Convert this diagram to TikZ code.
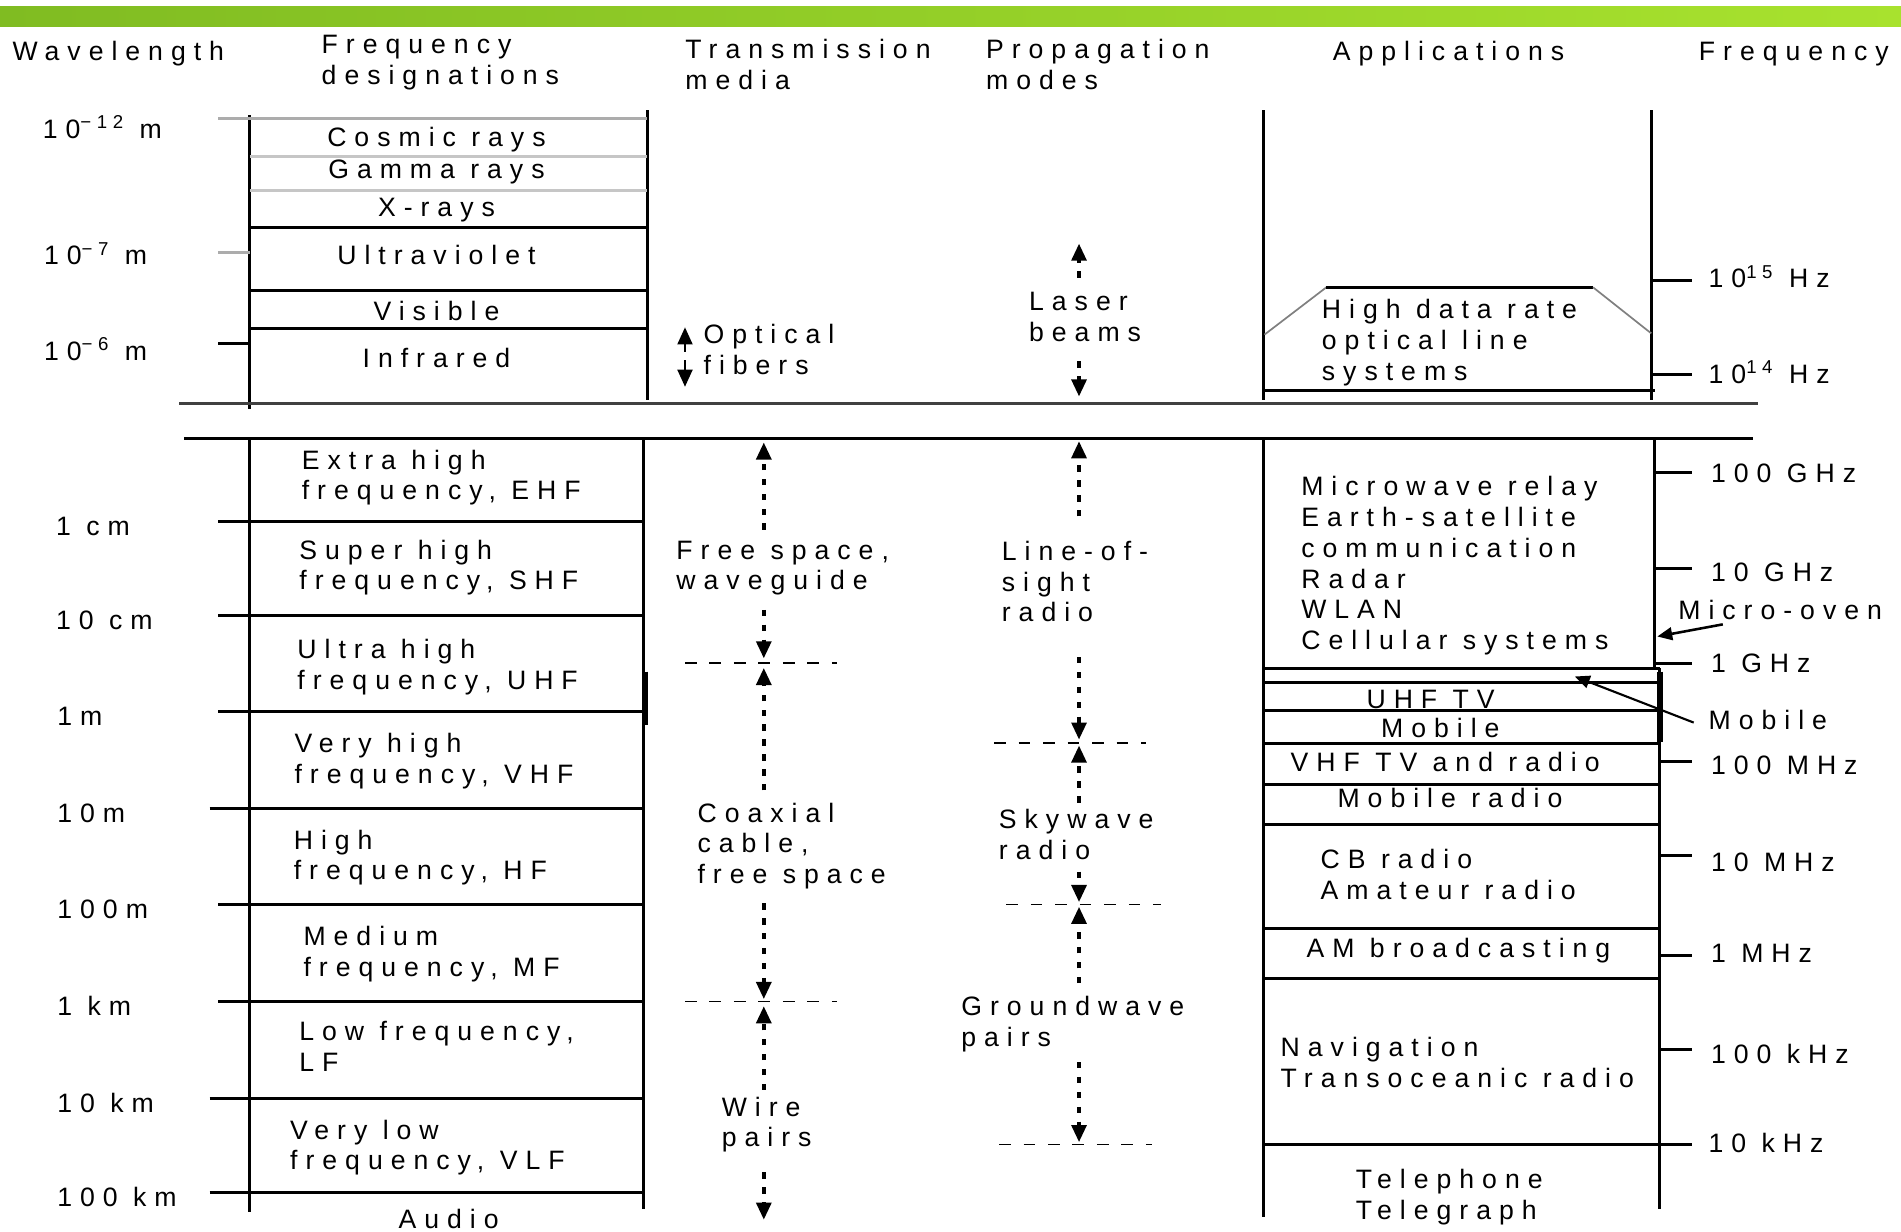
\documentclass[tikz,border=0pt]{standalone}
\usepackage{fontspec}
\setmainfont{Liberation Sans}[LetterSpace=30]
\usetikzlibrary{arrows.meta}

\begin{document}
\begin{tikzpicture}[
  x=0.02cm, y=-0.02cm,
  every node/.style={font=\fontsize{12.5pt}{14.5pt}\selectfont},
  lbl/.style={anchor=base west, inner sep=0pt, align=left},
  clbl/.style={anchor=base, inner sep=0pt, align=center},
  rule/.style={line width=1.4pt},
  greyrule/.style={line width=1.4pt, gray!65},
  stem/.style={line width=1.6pt, dash pattern=on 3pt off 4pt},
  tip/.style={-{Triangle[width=7pt,length=8pt]}},
  band/.style={line width=0.8pt, dash pattern=on 5.5pt off 6pt},
  pointer/.style={line width=1.2pt, -{Triangle[width=6pt,length=7pt]}}
]

\useasboundingbox (0,0) rectangle (1568,1016);
\fill[white] (0,0) rectangle (1568,1016);

% =====================================================
% TITLE BAR AND HEADERS
% (multi-line labels sit on the baseline of their last line)
% =====================================================

\shade[left color={rgb,255:red,128;green,188;blue,34},
       middle color={rgb,255:red,76;green,138;blue,26},
       right color={rgb,255:red,168;green,226;blue,46}]
  (0,5) rectangle (1568,22);

\node[lbl] (hwave)  at (10,49.5)   {Wavelength};
\node[lbl] (hdesig) at (265,70)    {Frequency\\designations};
\node[lbl] (hmedia) at (565,74)    {Transmission\\media};
\node[lbl] (hmodes) at (813,74)    {Propagation\\modes};
\node[lbl] (happ)   at (1099,49.5) {Applications};
\node[lbl] (hfreq)  at (1401,49.5) {Frequency};

% =====================================================
% OPTICAL RANGE
% =====================================================

\draw[rule] (206,95) -- (206,337);
\draw[rule] (534,91) -- (534,330);
\draw[rule] (1042,91) -- (1042,330);
\draw[rule] (1362,91) -- (1362,330);

\draw[greyrule] (180,98) -- (534,98);
\draw[greyrule, gray!45] (206,129) -- (534,129) (206,157) -- (534,157);
\draw[rule] (206,188) -- (534,188) (206,240) -- (534,240) (206,271) -- (534,271);
\draw[greyrule] (180,208) -- (206,208);
\draw[rule] (180,283) -- (206,283);
\draw[line width=1.4pt, black!75] (148,333) -- (1450,333);

\node[lbl] (w12) at (35,114)  {10\textsuperscript{−12} m};
\node[lbl] (w7)  at (36,218.5) {10\textsuperscript{−7} m};
\node[lbl] (w6)  at (36,297)  {10\textsuperscript{−6} m};

\node[clbl] (cosmic) at (360,121)   {Cosmic rays};
\node[clbl] (gamma)  at (360,147)   {Gamma rays};
\node[clbl] (xray)   at (360,178.5) {X-rays};
\node[clbl] (uv)     at (360,218.5) {Ultraviolet};
\node[clbl] (vis)    at (360,264)   {Visible};
\node[clbl] (ir)     at (360,303)   {Infrared};

\node[lbl] (fiber) at (580,309) {Optical\\fibers};
\draw[line width=1pt, tip] (565,290) -- (565,270);
\draw[line width=1pt, tip] (565,297) -- (565,319);

\node[lbl] (laser) at (848.5,282) {Laser\\beams};
\draw[stem, tip] (890,229) -- (890,201);
\draw[stem, tip] (890,298) -- (890,327);

\draw[line width=0.8pt, gray] (1043,276) -- (1094,237);
\draw[rule] (1094,237) -- (1314,237);
\draw[line width=0.8pt, gray] (1314,237) -- (1362,275);
\draw[rule] (1042,322) -- (1365,322);
\node[lbl] (optline) at (1090,313.5) {High data rate\\optical line\\systems};

\draw[rule] (1362,231) -- (1396,231) (1362,309) -- (1396,309);
\node[lbl] (f15) at (1409,237) {10\textsuperscript{15} Hz};
\node[lbl] (f14) at (1409,316) {10\textsuperscript{14} Hz};

% =====================================================
% RADIO RANGE: FREQUENCY DESIGNATIONS
% =====================================================

\draw[rule] (152,362) -- (1446,362);
\draw[rule] (206,362) -- (206,1000);
\draw[rule] (531,362) -- (531,997);
\draw[line width=2.6pt] (532,554) -- (532,598);

\draw[rule] (180,430) -- (531,430) (180,508) -- (531,508) (180,587) -- (531,587)
            (173,667) -- (531,667) (180,746) -- (531,746) (180,826) -- (531,826)
            (173,906) -- (531,906) (173,984) -- (531,984);

\node[lbl] (w1cm)   at (46,441.5) {1 cm};
\node[lbl] (w10cm)  at (46,519.5) {10 cm};
\node[lbl] (w1m)    at (47,598.5) {1m};
\node[lbl] (w10m)   at (47,678.5) {10m};
\node[lbl] (w100m)  at (47,757.5) {100m};
\node[lbl] (w1km)   at (47,837.5) {1 km};
\node[lbl] (w10km)  at (47,917.5) {10 km};
\node[lbl] (w100km) at (47,995.5) {100 km};

\node[lbl] (ehf) at (248.6,412.4) {Extra high\\frequency, EHF};
\node[lbl] (shf) at (246.6,486.6) {Super high\\frequency, SHF};
\node[lbl] (uhf) at (245,569)     {Ultra high\\frequency, UHF};
\node[lbl] (vhf) at (242.6,646)   {Very high\\frequency, VHF};
\node[lbl] (hf)  at (242,725.8)   {High\\frequency, HF};
\node[lbl] (mf)  at (250,805.6)   {Medium\\frequency, MF};
\node[lbl] (lf)  at (246.6,884)   {Low frequency,\\LF};
\node[lbl] (vlf) at (239,965)     {Very low\\frequency, VLF};
\node[clbl] (audio) at (370,1013.5) {Audio};

% =====================================================
% TRANSMISSION MEDIA
% =====================================================

\node[lbl] (freesp) at (557.6,486.6) {Free space,\\waveguide};
\node[lbl] (coax)   at (575,729)     {Coaxial\\cable,\\free space};
\node[lbl] (wire)   at (595,946)     {Wire\\pairs};

\draw[stem, tip] (630,437) -- (630,365);
\draw[stem, tip] (630,503) -- (630,543);
\draw[band] (565,547) -- (690,547);
\draw[stem, tip] (630,652) -- (630,551);
\draw[stem, tip] (630,745) -- (630,824);
\draw[band] (565,826) -- (690,826);
\draw[stem, tip] (630,899) -- (630,830);
\draw[stem, tip] (630,967) -- (630,1006);

% =====================================================
% PROPAGATION MODES
% =====================================================

\node[lbl] (los)    at (826,513)   {Line-of-\\sight\\radio};
\node[lbl] (sky)    at (823.6,709) {Skywave\\radio};
\node[lbl] (ground) at (792.6,863) {Groundwave\\pairs};

\draw[stem, tip] (890,426) -- (890,364);
\draw[stem, tip] (890,542) -- (890,610);
\draw[band] (820,613) -- (945,613);
\draw[stem, tip] (890,662) -- (890,615);
\draw[stem, tip] (890,719) -- (890,744);
\draw[band] (830,746) -- (958,746);
\draw[stem, tip] (890,811) -- (890,748);
\draw[stem, tip] (890,876) -- (890,942);
\draw[band] (824,944) -- (950,944);

% =====================================================
% APPLICATIONS
% =====================================================

\draw[rule] (1042,362) -- (1042,1004);
\draw[rule] (1365,362) -- (1365,551);
\draw[rule] (1369,551) -- (1369,997);
\draw[line width=2.6pt] (1369,554) -- (1369,612);

\draw[rule] (1042,551) -- (1369,551) (1042,563) -- (1369,563) (1042,586) -- (1369,586)
            (1042,613) -- (1369,613) (1042,647) -- (1369,647) (1042,680) -- (1369,680)
            (1042,766) -- (1369,766) (1042,807) -- (1369,807) (1042,944) -- (1396,944);

\node[lbl] (micro) at (1073,536)
{Microwave relay\\Earth-satellite\\communication\\Radar\\WLAN\\Cellular systems};
\node[clbl] (uhftv)  at (1180,584)   {UHF TV};
\node[clbl] (mobile) at (1188,608)   {Mobile};
\node[clbl] (vhftv)  at (1192,636.5) {VHF TV and radio};
\node[clbl] (mobrad) at (1196,666)   {Mobile radio};
\node[lbl]  (cb)     at (1089,742)   {CB radio\\Amateur radio};
\node[clbl] (am)     at (1203,790)   {AM broadcasting};
\node[lbl]  (nav)    at (1056,897)   {Navigation\\Transoceanic radio};
\node[lbl]  (tel)    at (1118,1006)  {Telephone\\Telegraph};

% =====================================================
% FREQUENCY SCALE
% =====================================================

\draw[rule] (1365,390) -- (1396,390) (1365,469) -- (1396,469) (1365,547) -- (1396,547)
            (1369,628) -- (1396,628) (1369,706) -- (1396,706) (1369,788) -- (1396,788)
            (1369,866) -- (1396,866);

\node[lbl] (f100g) at (1411,398) {100 GHz};
\node[lbl] (f10g)  at (1411,480) {10 GHz};
\node[lbl] (oven)  at (1384,511) {Micro-oven};
\node[lbl] (f1g)   at (1411,555) {1 GHz};
\node[lbl] (mobf)  at (1409,602) {Mobile};
\node[lbl] (f100m) at (1411,639) {100 MHz};
\node[lbl] (f10m)  at (1411,719) {10 MHz};
\node[lbl] (f1m)   at (1411,794) {1 MHz};
\node[lbl] (f100k) at (1411,877) {100 kHz};
\node[lbl] (f10k)  at (1409,951) {10 kHz};

\coordinate (oventip) at (1367,525);
\coordinate (mobtip) at (1299,558);
\draw[pointer] ([shift={(37,4)}]oven.base west) -- (oventip);
\draw[pointer, line width=1pt] ([shift={(-12,-6)}]mobf.base west) -- (mobtip);

\end{tikzpicture}
\end{document}
